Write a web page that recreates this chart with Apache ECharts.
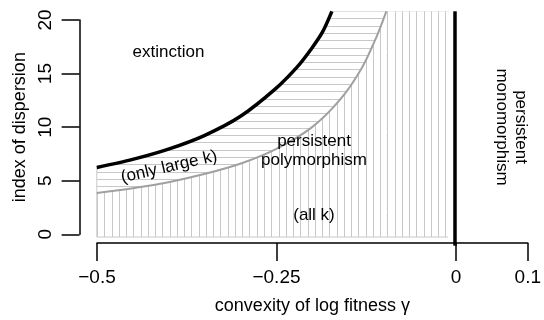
<!DOCTYPE html>
<html>
<head>
<meta charset="utf-8">
<script src="https://cdn.jsdelivr.net/npm/echarts@6/dist/echarts.min.js"></script>
<style>
  html, body { margin: 0; padding: 0; background: #fff; }
  #main { width: 544px; height: 320px; }
</style>
</head>
<body>
<div id="main"></div>
<script>
// upper boundary (black): extinction above it
var blackX = [-0.5, -0.45, -0.4, -0.35, -0.3, -0.25, -0.22, -0.2, -0.185, -0.172]
var blackY = [6.4, 7.15, 8.1, 9.35, 11.1, 13.7, 15.7, 17.4, 18.9, 20.8]
// lower boundary (gray): polymorphism for all k below it
var grayX = [-0.5, -0.45, -0.4, -0.35, -0.3, -0.25, -0.2, -0.16, -0.13, -0.11, -0.096]
var grayY = [4.05, 4.5, 5.05, 5.8, 6.75, 8.1, 10.1, 12.7, 15.6, 18.4, 20.8]

var xTicks = [-0.5, -0.25, 0, 0.1]
var yTicks = [0, 5, 10, 15, 20]
var xLim = [-0.524, 0.124]   // plot region (R style 4% padding)
var yLim = [-0.8, 20.8]
var regionRight = -0.0085    // right edge of the hatched region

var FONT = 'Liberation Sans, Arial, Helvetica, sans-serif'
var HATCH = '#c8c8c8'
var CURVE = '#a0a0a0'

function pairs(xs, ys) {
    return xs.map(function (x, i) { return [x, ys[i]] })
}

// hatch tiles with white background, so later areas cover earlier ones
function hatch(vertical, step, count) {
    var c = document.createElement('canvas')
    var len = Math.round(step * count)
    c.width = vertical ? len : 4
    c.height = vertical ? 4 : len
    var ctx = c.getContext('2d')
    ctx.fillStyle = '#fff'
    ctx.fillRect(0, 0, c.width, c.height)
    ctx.fillStyle = HATCH
    for (var i = 0; i < count; i++) {
        var p = Math.round(i * step)
        if (vertical) ctx.fillRect(p, 0, 1, c.height)
        else ctx.fillRect(0, p, c.width, 1)
    }
    return c
}

var vPattern = { image: hatch(true, 7.26, 50), repeat: 'repeat', x: 97, y: 0 }
var hPattern = { image: hatch(false, 7.3, 10), repeat: 'repeat', x: 0, y: 11 }

var blackData = pairs(blackX, blackY)
var grayData = pairs(grayX, grayY)

function areaSeries(data, pattern) {
    return {
        type: 'line', xAxisIndex: 1, yAxisIndex: 1,
        data: data, smooth: 0.3, symbol: 'none', silent: true,
        lineStyle: { width: 0, opacity: 0 },
        areaStyle: { color: pattern, opacity: 1 }
    }
}

function curveSeries(data, color, width) {
    return {
        type: 'line', xAxisIndex: 1, yAxisIndex: 1,
        data: data, smooth: 0.3, symbol: 'none', silent: true,
        lineStyle: { color: color, width: width }
    }
}

var textStyle = { fill: '#000', font: '17px ' + FONT, textAlign: 'center', textVerticalAlign: 'middle', lineHeight: 19 }

function label(text, x, y, rot) {
    return {
        type: 'text', x: x, y: y, z: 100, rotation: (rot || 0) * Math.PI / 180,
        style: Object.assign({ text: text }, textStyle)
    }
}

var chart = echarts.init(document.getElementById('main'))
chart.setOption({
    animation: false,
    backgroundColor: '#fff',
    grid: [
        // axes grid (tick range only)
        { left: 97, top: 20, width: 435, height: 217 },
        // plot region
        { left: 79.6, top: 11.3, width: 469.8, height: 234.4 }
    ],
    xAxis: [
        {
            type: 'value', gridIndex: 0, min: -0.5, max: 0.1, position: 'bottom', offset: 8.7,
            axisLine: { onZero: false, lineStyle: { color: '#000', width: 1.5 } },
            axisTick: { length: 18, lineStyle: { color: '#000', width: 1.5 }, customValues: xTicks },
            axisLabel: {
                customValues: xTicks, margin: 25, color: '#000', fontSize: 19, fontFamily: FONT,
                formatter: function (v) { return String(v).replace('-', '\u2212') }
            },
            splitLine: { show: false },
            name: 'convexity of log fitness \u03b3', nameLocation: 'middle', nameGap: 54,
            nameTextStyle: { color: '#000', fontSize: 18, fontFamily: FONT }
        },
        { type: 'value', gridIndex: 1, min: xLim[0], max: xLim[1], show: false }
    ],
    yAxis: [
        {
            type: 'value', gridIndex: 0, min: 0, max: 20, interval: 5, position: 'left', offset: 17.4,
            axisLine: { show: true, onZero: false, lineStyle: { color: '#000', width: 1.5 } },
            axisTick: { show: true, length: 18, lineStyle: { color: '#000', width: 1.5 }, customValues: yTicks },
            axisLabel: { customValues: yTicks, rotate: 90, margin: 24, color: '#000', fontSize: 19, fontFamily: FONT },
            splitLine: { show: false },
            name: 'index of dispersion', nameLocation: 'middle', nameGap: 50,
            nameTextStyle: { color: '#000', fontSize: 18, fontFamily: FONT }
        },
        { type: 'value', gridIndex: 1, min: yLim[0], max: yLim[1], show: false }
    ],
    series: [
        // between the curves: horizontal hatching
        areaSeries(blackData, hPattern),
        areaSeries([[blackX[blackX.length - 1], yLim[1]], [regionRight, yLim[1]]], hPattern),
        // below the gray curve: vertical hatching
        areaSeries(grayData, vPattern),
        areaSeries([[grayX[grayX.length - 1], yLim[1]], [regionRight, yLim[1]]], vPattern),
        // outline of the hatched region
        {
            type: 'line', xAxisIndex: 1, yAxisIndex: 1, symbol: 'none', silent: true,
            data: [[-0.5, blackY[0]], [-0.5, 0], [regionRight - 0.0015, 0]],
            lineStyle: { color: HATCH, width: 1 }
        },
        curveSeries(grayData, CURVE, 2),
        curveSeries(blackData, '#000', 3.5),
        {
            type: 'line', xAxisIndex: 1, yAxisIndex: 1, data: [], silent: true,
            markLine: {
                silent: true, symbol: 'none', label: { show: false },
                lineStyle: { color: '#000', width: 3.5, type: 'solid' },
                data: [{ xAxis: 0 }]
            }
        }
    ],
    graphic: [
        label('extinction', 168.5, 52),
        label('(only large k)', 169, 167, 13),
        label('persistent\npolymorphism', 314, 151),
        label('(all k)', 314, 215),
        label('persistent\nmonomorphism', 511, 127, -90)
    ]
})
</script>
</body>
</html>
